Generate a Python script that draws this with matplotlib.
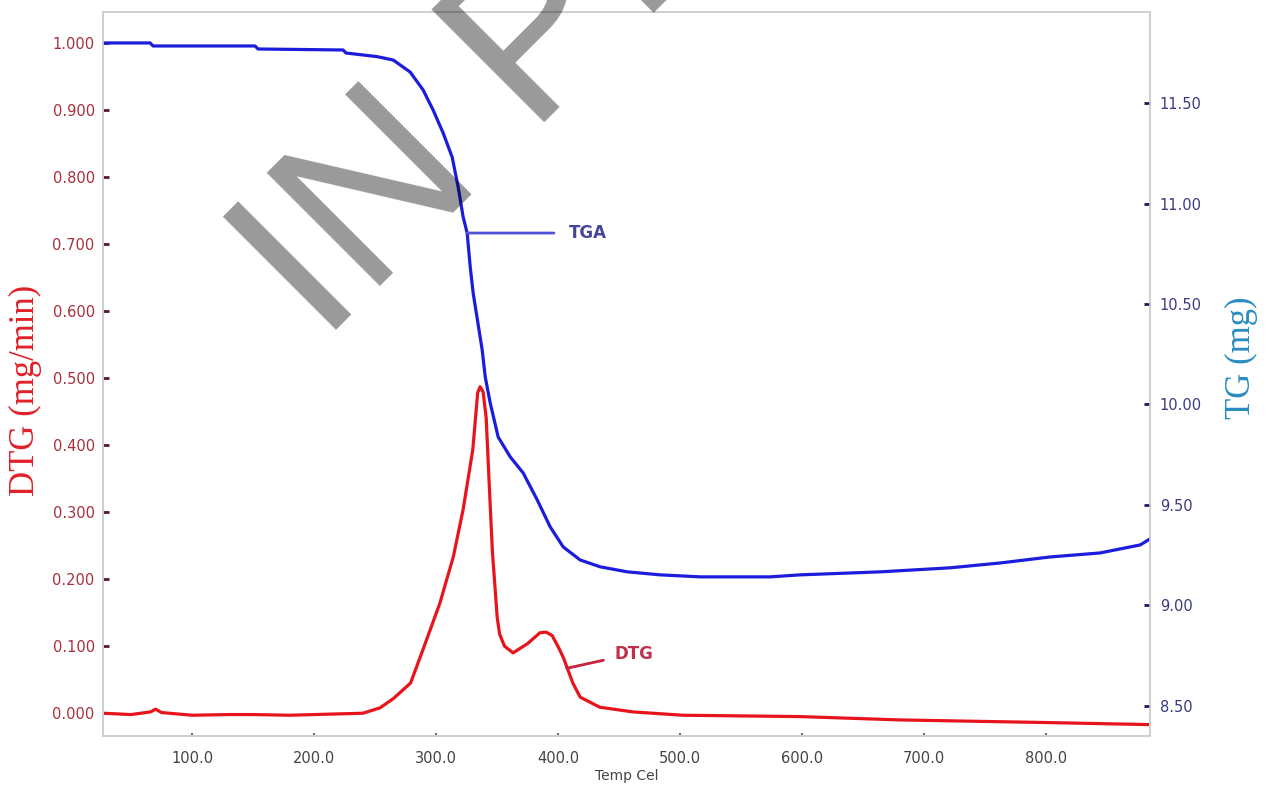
import matplotlib
matplotlib.use("Agg")
import matplotlib.pyplot as plt

# DTG curve (left axis, mg/min)
dtg_temp = [27, 50, 66, 70, 75, 100, 130, 150, 180, 200, 240, 254, 265, 279, 289, 303, 314, 322,
            330, 334, 336, 338.5, 341, 343, 346, 350, 352, 356, 363, 375, 385, 390, 395, 400,
            404, 412, 418, 434, 461, 502, 598, 680, 803, 885]
dtg_val = [0.000, -0.002, 0.002, 0.006, 0.001, -0.003, -0.002, -0.002, -0.003, -0.002, 0.000,
           0.008, 0.022, 0.045, 0.094, 0.164, 0.233, 0.303, 0.393, 0.478, 0.487, 0.479, 0.44,
           0.36, 0.243, 0.143, 0.118, 0.100, 0.090, 0.104, 0.120, 0.121, 0.116, 0.099, 0.084,
           0.045, 0.024, 0.009, 0.002, -0.003, -0.005, -0.010, -0.014, -0.017]

# TGA curve (right axis, mg)
tga_temp = [27, 65.6, 68, 151.6, 154, 223.8, 226, 251.6, 264.8, 278.7, 289.3, 297.5, 305.7,
            313.1, 318, 322.1, 325.4, 327.9, 330.3, 337.7, 340.2, 344.3, 350.8, 360.7, 371.3,
            382.8, 393.4, 404.1, 418, 434.4, 456.6, 483.6, 516.4, 573.8, 598.4, 664, 721, 762,
            803, 844, 877, 885]
tga_val = [11.799, 11.799, 11.784, 11.784, 11.769, 11.764, 11.749, 11.731, 11.714, 11.654,
           11.565, 11.465, 11.351, 11.231, 11.082, 10.933, 10.853, 10.684, 10.555, 10.271,
           10.137, 10.007, 9.838, 9.739, 9.659, 9.525, 9.391, 9.291, 9.226, 9.192, 9.167,
           9.152, 9.142, 9.142, 9.152, 9.167, 9.187, 9.211, 9.241, 9.261, 9.301, 9.331]

x_ticks = [100, 200, 300, 400, 500, 600, 700, 800]
dtg_ticks = [0.0, 0.1, 0.2, 0.3, 0.4, 0.5, 0.6, 0.7, 0.8, 0.9, 1.0]
tg_ticks = [8.5, 9.0, 9.5, 10.0, 10.5, 11.0, 11.5]

fig = plt.figure(figsize=(12.66, 7.85), dpi=100)
ax = fig.add_axes([0.0814, 0.0624, 0.827, 0.9223])
ax2 = ax.twinx()

ax.plot(dtg_temp, dtg_val, color='#e8141c', lw=2.3)
ax2.plot(tga_temp, tga_val, color='#1c1cdc', lw=2.3)

ax.set_xlim(27, 885)
ax.set_ylim(-0.034, 1.046)
ax2.set_ylim(8.35, 11.953)

ax.set_xticks(x_ticks)
ax.set_xticklabels(['%.1f' % t for t in x_ticks])
ax.set_yticks(dtg_ticks)
ax.set_yticklabels(['%.3f' % v for v in dtg_ticks])
ax2.set_yticks(tg_ticks)
ax2.set_yticklabels(['%.2f' % v for v in tg_ticks])

ax.tick_params(axis='x', direction='in', length=2, width=1.5, color='#707070',
               labelcolor='#444444', labelsize=10.5, pad=11)
ax.tick_params(axis='y', direction='in', length=4, width=2, color='#5a1a2a',
               labelcolor='#a8303c', labelsize=10.5, pad=6)
ax2.tick_params(axis='y', direction='in', length=4, width=2, color='#1a1a5a',
                labelcolor='#3a3a82', labelsize=10.5, pad=7)

for a in (ax, ax2):
    for s in a.spines.values():
        s.set_color('#cfcfcf')
        s.set_linewidth(1.2)

ax.set_xlabel('Temp Cel', fontsize=10, color='#444444')
ax.xaxis.set_label_coords(0.5, -0.046)
ax.set_ylabel('DTG (mg/min)', fontsize=25, color='#e02028', family='Liberation Serif')
ax.yaxis.set_label_coords(-0.058, 0.478)
ax2.set_ylabel('TG (mg)', fontsize=25, color='#2a8cc0', family='Liberation Serif')
ax2.yaxis.set_label_coords(1.072, 0.523)

ax2.annotate('TGA', xy=(325.4, 10.853), xytext=(409, 10.853), color='#45459a', fontsize=12,
             fontweight='bold', va='center', ha='left',
             arrowprops=dict(arrowstyle='-', color='#5050d8', lw=2, shrinkA=9, shrinkB=0))
ax.annotate('DTG', xy=(407, 0.067), xytext=(446, 0.089), color='#c0304a', fontsize=12,
            fontweight='bold', va='center', ha='left',
            arrowprops=dict(arrowstyle='-', color='#c82040', lw=2, shrinkA=6, shrinkB=0))

# watermark
fig.text(0.2543, 0.5605, 'IN PRESS', fontsize=167, family='Liberation Sans', color='black',
         alpha=0.4, rotation=45, rotation_mode='anchor', ha='left', va='baseline', zorder=10)

fig.savefig('out.png', dpi=100)
